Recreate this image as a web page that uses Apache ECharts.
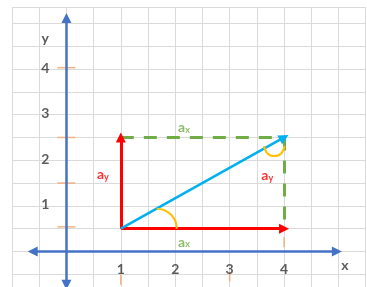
<!DOCTYPE html>
<html>
<head>
<meta charset="utf-8">
<script src="https://cdn.jsdelivr.net/npm/echarts@6/dist/echarts.min.js"></script>
<style>
  html, body { margin: 0; padding: 0; background: #fff; }
  #chart { width: 367px; height: 287px; }
</style>
</head>
<body>
<div id="chart"></div>
<script>
// tick labels on the axes
var xTickLabels = [1, 2, 3, 4];
var yTickLabels = [1, 2, 3, 4];

// coordinate axes, arrow at both ends
var xAxisLine = [[-0.62, 0], [4.97, 0]];
var yAxisLine = [[0, -0.73], [0, 5.12]];

// vector a and its components
var vecStart = [1, 0.5];
var vecEnd = [4, 2.5];
var axVector = [vecStart, [4, 0.5]];
var ayVector = [vecStart, [1, 2.5]];
var aVector = [vecStart, vecEnd];
// dashed sides of the rectangle
var dashedTop = [[1, 2.5], [4, 2.5]];
var dashedRight = [[4, 2.5], [4, 0.5]];

// small orange marks on the axes
var yTickMarks = [0.54, 1.5, 2.5, 4.03];
var xTickMarks = [[1, -0.62], [3, -0.55], [4, 0.2]];

// text annotations: x, y, text, colour
var notes = [
  [2.16, 2.73, '{a|a}{s|x}', '#70AD47'],
  [2.16, 0.23, '{a|a}{s|x}', '#70AD47'],
  [0.67, 1.70, '{a|a}{s|y}', '#FF0000'],
  [3.69, 1.68, '{a|a}{s|y}', '#FF0000'],
  [5.12, -0.30, '{t|x}', '#333333'],
  [-0.39, 4.68, '{t|y}', '#333333']
];

var chart = echarts.init(document.getElementById('chart'));

function arrowLines(coords, color, width, dash, ends) {
  return {
    type: 'lines',
    coordinateSystem: 'cartesian2d',
    symbol: ends,
    symbolSize: 10,
    lineStyle: { color: color, width: width, opacity: 1, type: dash || 'solid' },
    data: coords.map(function (c) { return { coords: c }; }),
    silent: true,
    z: 5
  };
}

var tickFont = {
  fontSize: 14,
  fontWeight: 'bold',
  color: '#333333',
  fontFamily: 'Lato'
};

function tickText(points, offset) {
  return {
    type: 'scatter',
    silent: true,
    symbolSize: 1,
    itemStyle: { color: 'rgba(0,0,0,0)' },
    z: 7,
    data: points.map(function (p) {
      return {
        value: p,
        label: Object.assign({
          show: true, position: 'inside', offset: offset,
          formatter: String(p[0] || p[1])
        }, tickFont)
      };
    })
  };
}

var gridAxis = {
  type: 'value', interval: 0.5,
  axisLine: { show: false },
  axisTick: { show: false },
  axisLabel: { show: false },
  splitLine: { show: true, lineStyle: { color: '#DADADA', width: 1 } }
};

chart.setOption({
  animation: false,
  backgroundColor: '#fff',
  grid: { left: 12, right: 1.3, top: 7, bottom: -10.1, outerBoundsMode: 'none' },
  xAxis: Object.assign({ min: -1, max: 5.5 }, gridAxis),
  yAxis: Object.assign({ min: -1, max: 5.36 }, gridAxis),
  series: [
    // orange marks
    {
      type: 'custom',
      silent: true,
      z: 2,
      data: yTickMarks.map(function (v) { return [0, v, 0]; })
        .concat(xTickMarks.map(function (p) { return [p[0], p[1], 1]; })),
      renderItem: function (params, api) {
        var p = api.coord([api.value(0), api.value(1)]);
        var vertical = api.value(2) === 1;
        return {
          type: 'line',
          shape: vertical
            ? { x1: p[0], y1: p[1] - 5, x2: p[0], y2: p[1] + 5 }
            : { x1: p[0] - 9, y1: p[1], x2: p[0] + 9, y2: p[1] },
          style: { stroke: '#F4B183', lineWidth: 1.5 }
        };
      }
    },
    arrowLines([xAxisLine, yAxisLine], '#4472C4', 2.5, null, ['triangle', 'triangle']),
    arrowLines([dashedTop, dashedRight], '#70AD47', 3, [13, 10], ['none', 'none']),
    arrowLines([axVector, ayVector], '#FF0000', 3, null, ['none', 'triangle']),
    arrowLines([aVector], '#00B0F0', 2.5, null, ['none', 'triangle']),
    // angle arcs
    {
      type: 'custom',
      silent: true,
      z: 6,
      data: [[1.66, 0.5, 20, 0], [3.82, 2.31, 10, 1]],
      renderItem: function (params, api) {
        var c = api.coord([api.value(0), api.value(1)]);
        var small = api.value(3) === 1;
        return {
          type: 'arc',
          shape: {
            cx: c[0], cy: c[1], r: api.value(2),
            startAngle: small ? 0 : -Math.PI / 2,
            endAngle: small ? Math.PI : 0,
            clockwise: true
          },
          style: { stroke: '#FFC000', lineWidth: 2, fill: null }
        };
      }
    },
    // tick labels
    tickText(xTickLabels.map(function (v) { return [v, 0]; }), [0, 18]),
    tickText(yTickLabels.map(function (v) { return [0, v]; }), [-21, -1]),
    // text
    {
      type: 'scatter',
      silent: true,
      symbolSize: 1,
      itemStyle: { color: 'rgba(0,0,0,0)' },
      z: 7,
      data: notes.map(function (n) {
        return {
          value: [n[0], n[1]],
          label: {
            show: true,
            position: 'inside',
            formatter: n[2],
            rich: {
              a: { fontSize: 14, fontWeight: 'bold', color: n[3], fontFamily: 'Lato', lineHeight: 16, verticalAlign: 'bottom' },
              s: { fontSize: 9, fontWeight: 'bold', color: n[3], fontFamily: 'Lato', lineHeight: 16, verticalAlign: 'bottom', padding: [4, 0, 0, 0] },
              t: { fontSize: 14, fontWeight: 'bold', color: n[3], fontFamily: 'Lato' }
            }
          }
        };
      })
    }
  ]
});
</script>
</body>
</html>
